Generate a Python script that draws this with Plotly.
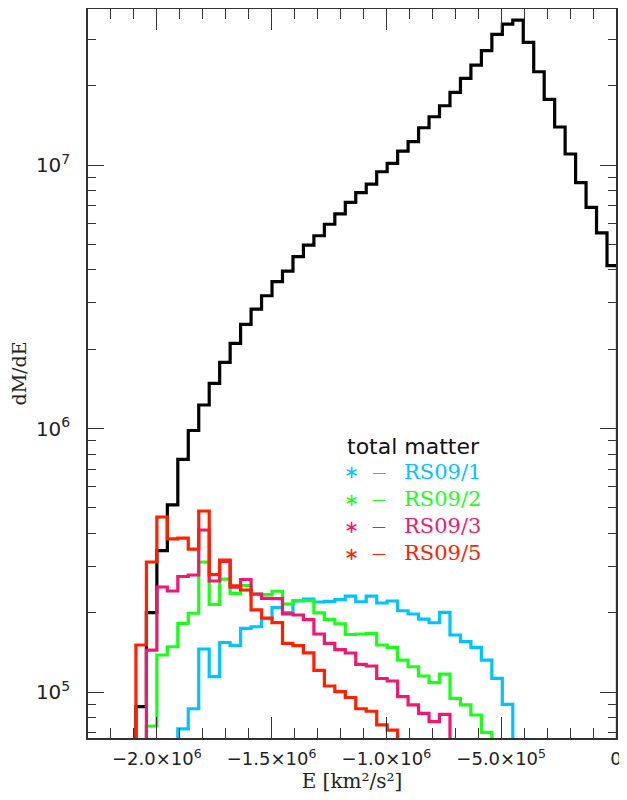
import math
import plotly.graph_objects as go

# ---------------- data ----------------
# histogram bin edges in E [km^2/s^2]
bin_edges = [-2091200, -2045600, -2000000, -1954400, -1908800, -1863200, -1817600,
             -1772000, -1726400, -1680800, -1635200, -1589600, -1544000, -1498400,
             -1452800, -1407200, -1361600, -1316000, -1270400, -1224800, -1179200,
             -1133600, -1088000, -1042400, -996800, -951200, -905600, -860000,
             -814400, -768800, -723200, -677600, -632000, -586400, -540800, -495200,
             -449600, -404000, -358400, -312800, -267200, -221600, -176000, -130400,
             -84800, -39200, 6400]

# total matter, bins 0..45
total_start = 0
total_matter = [8.80e4, 2.00e5, 3.44e5, 5.13e5, 7.63e5, 9.83e5, 1.228e6, 1.484e6,
                1.783e6, 2.106e6, 2.486e6, 2.841e6, 3.19e6, 3.61e6, 3.96e6, 4.49e6,
                4.97e6, 5.39e6, 5.96e6, 6.52e6, 7.22e6, 7.86e6, 8.47e6, 9.43e6,
                1.015e7, 1.130e7, 1.226e7, 1.385e7, 1.525e7, 1.679e7, 1.888e7,
                2.133e7, 2.396e7, 2.716e7, 3.133e7, 3.428e7, 3.55e7, 2.922e7,
                2.26e7, 1.776e7, 1.394e7, 1.101e7, 8.57e6, 6.91e6, 5.53e6, 4.15e6]

# RS09/1, bins 4..35
rs1_start = 4
rs09_1 = [7.24e4, 8.64e4, 1.456e5, 1.143e5, 1.541e5, 1.504e5, 1.744e5, 1.769e5,
          1.900e5, 2.092e5, 2.003e5, 2.215e5, 2.254e5, 2.196e5, 2.209e5, 2.242e5,
          2.313e5, 2.201e5, 2.313e5, 2.177e5, 2.215e5, 2.034e5, 1.977e5, 1.892e5,
          1.832e5, 2.007e5, 1.646e5, 1.552e5, 1.477e5, 1.322e5, 1.127e5, 8.98e4]

# RS09/2, bins 1..33
rs2_start = 1
rs09_2 = [7.43e4, 1.382e5, 1.485e5, 1.823e5, 1.990e5, 3.114e5, 2.148e5, 2.680e5,
          2.369e5, 2.536e5, 2.354e5, 2.340e5, 2.412e5, 2.158e5, 2.221e5, 2.221e5,
          1.995e5, 1.887e5, 1.816e5, 1.653e5, 1.66e5, 1.67e5, 1.508e5, 1.477e5,
          1.322e5, 1.247e5, 1.150e5, 1.085e5, 1.170e5, 9.46e4, 8.93e4, 8.18e4, 7.03e4]

# RS09/3, bins 1..29
rs3_start = 1
rs09_3 = [1.443e5, 2.503e5, 2.417e5, 2.744e5, 2.780e5, 4.12e5, 2.638e5, 3.13e5,
          2.50e5, 2.673e5, 2.354e5, 2.268e5, 2.260e5, 1.981e5, 1.960e5, 1.881e5,
          1.660e5, 1.530e5, 1.447e5, 1.406e5, 1.274e5, 1.255e5, 1.125e5, 1.101e5,
          9.60e4, 8.93e4, 8.30e4, 7.72e4, 8.23e4]

# RS09/5, bins 0..24
rs5_start = 0
rs09_5 = [1.508e5, 3.114e5, 4.615e5, 3.814e5, 3.84e5, 3.488e5, 4.863e5, 2.788e5,
          3.170e5, 2.53e5, 2.438e5, 2.048e5, 1.909e5, 1.835e5, 1.530e5, 1.501e5,
          1.408e5, 1.209e5, 1.054e5, 1.004e5, 9.53e4, 8.64e4, 8.45e4, 7.50e4, 7.17e4]

x_major = [-2.0e6, -1.5e6, -1.0e6, -5.0e5, 0]
x_major_text = ["\u22122.0\u00d710<sup>6</sup>", "\u22121.5\u00d710<sup>6</sup>",
                "\u22121.0\u00d710<sup>6</sup>", "\u22125.0\u00d710<sup>5</sup>", "0"]
x_minor = [-2.3e6, -2.2e6, -2.1e6, -1.9e6, -1.8e6, -1.7e6, -1.6e6, -1.4e6, -1.3e6,
           -1.2e6, -1.1e6, -9e5, -8e5, -7e5, -6e5, -4e5, -3e5, -2e5, -1e5]
y_major = [1e5, 1e6, 1e7]
y_major_text = ["10<sup>5</sup>", "10<sup>6</sup>", "10<sup>7</sup>"]
y_minor = [7e4, 8e4, 9e4, 2e5, 3e5, 4e5, 5e5, 6e5, 7e5, 8e5, 9e5,
           2e6, 3e6, 4e6, 5e6, 6e6, 7e6, 8e6, 9e6, 2e7, 3e7]

legend_title = "total matter"
legend_labels = ["RS09/1", "RS09/2", "RS09/3", "RS09/5"]

# ---------------- styling ----------------
C_BLACK = "#000000"
C_BLUE = "#00c3ff"
C_GREEN = "#1aff1a"
C_PINK = "#f01870"
C_RED = "#ff2000"
FLOOR = 1e4  # below the visible range, draws the outer edges of the histogram

series = [
    (total_start, total_matter, C_BLACK),
    (rs1_start, rs09_1, C_BLUE),
    (rs2_start, rs09_2, C_GREEN),
    (rs3_start, rs09_3, C_PINK),
    (rs5_start, rs09_5, C_RED),
]

fig = go.Figure()
for start, vals, col in series:
    n = len(vals)
    xs = [bin_edges[start]] + bin_edges[start:start + n] + [bin_edges[start + n], bin_edges[start + n]]
    ys = [FLOOR] + list(vals) + [vals[-1], FLOOR]
    fig.add_trace(go.Scatter(x=xs, y=ys, mode="lines", line=dict(color=col, width=3.2, shape="hv"),
                             showlegend=False, hoverinfo="skip"))

ymin, ymax = 6.69e4, 3.91e7
axis_col = "#333333"
TICKFONT = dict(family="DejaVu Sans", size=18, color="#222222")

fig.update_xaxes(range=[-2.3e6, 0], showline=True, linecolor=axis_col, linewidth=1.5, mirror="allticks",
                 ticks="inside", ticklen=21, tickwidth=1.3, tickcolor=axis_col,
                 tickvals=x_major, ticktext=x_major_text, tickfont=TICKFONT,
                 ticklabelstandoff=4,
                 minor=dict(tickvals=x_minor, ticks="inside", ticklen=10, tickwidth=1.3, tickcolor=axis_col),
                 showgrid=False, zeroline=False,
                 title=dict(text="E [km\u00b2/s\u00b2]", font=dict(family="DejaVu Serif", size=20, color="#222"),
                            standoff=2))
fig.update_yaxes(type="log", range=[math.log10(ymin), math.log10(ymax)], showline=True, linecolor=axis_col,
                 linewidth=1.5, mirror="allticks", ticks="inside", ticklen=16, tickwidth=1.3, tickcolor=axis_col,
                 tickvals=y_major, ticktext=y_major_text, tickfont=dict(family="DejaVu Sans", size=20, color="#222"),
                 ticklabelstandoff=12,
                 minor=dict(tickvals=y_minor, ticks="inside", ticklen=8, tickwidth=1.3, tickcolor=axis_col),
                 showgrid=False, zeroline=False,
                 title=dict(text="dM/dE", font=dict(family="DejaVu Serif", size=19, color="#222"), standoff=14))

# the page places the figure 8 px in from the window's top-left corner
OFF = 8
W, H = 627 - OFF, 800 - OFF
L, R, T, B = 88 - OFF, 11, 9 - OFF, 62
pw, ph = W - L - R, H - T - B


def px(xp):  # window pixel -> paper x
    return (xp - OFF - L) / pw


def py(yp):  # window pixel -> paper y
    return (H - B - (yp - OFF)) / ph


ann = [dict(text=legend_title, x=px(345), y=py(447), xanchor="left", yanchor="middle",
            font=dict(family="DejaVu Sans", size=22, color="#111"))]
row_y = [472, 499, 526, 553]
for lab, col, yy in zip(legend_labels, [C_BLUE, C_GREEN, C_PINK, C_RED], row_y):
    ann.append(dict(text="\u2217", x=px(351), y=py(yy), xanchor="center", yanchor="middle",
                    font=dict(family="DejaVu Sans", size=18, color=col)))
    ann.append(dict(text="\u2014", x=px(379), y=py(yy), xanchor="center", yanchor="middle",
                    font=dict(family="DejaVu Sans", size=14, color=col)))
    ann.append(dict(text=lab, x=px(402), y=py(yy), xanchor="left", yanchor="middle",
                    font=dict(family="DejaVu Serif", size=21, color=col)))
for a in ann:
    a.update(xref="paper", yref="paper", showarrow=False)

fig.update_layout(width=W, height=H, margin=dict(l=L, r=R, t=T, b=B, autoexpand=False),
                  paper_bgcolor="white", plot_bgcolor="white", annotations=ann)

fig.write_html("out.html")
